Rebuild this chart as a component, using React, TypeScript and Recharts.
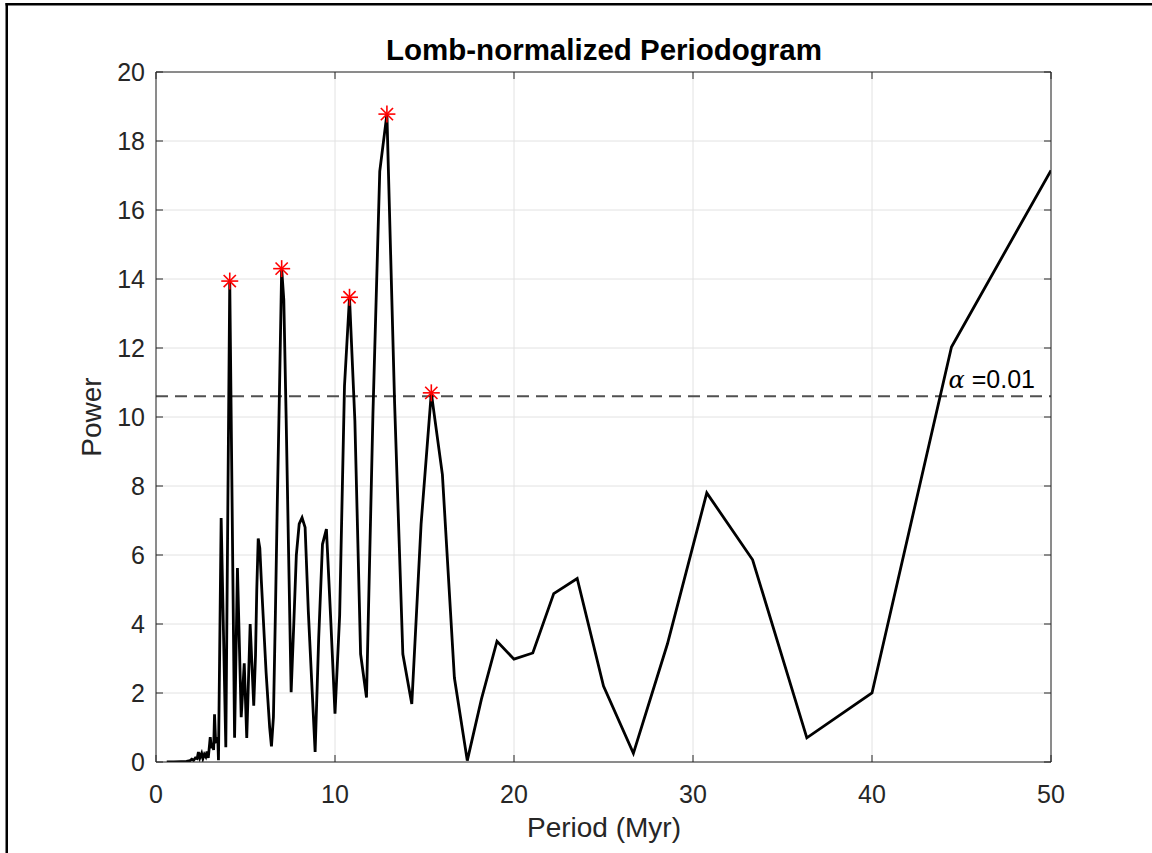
import React from "react";
import {
  ComposedChart,
  Line,
  XAxis,
  YAxis,
  CartesianGrid,
  ReferenceLine,
} from "recharts";

// Period (Myr) and Lomb-normalized power
const periods: number[] = [
  0.6, 1.0, 1.4, 1.7, 1.9, 2.0, 2.1, 2.2, 2.3, 2.37, 2.45, 2.55, 2.62, 2.7, 2.78, 2.85,
  2.92, 3.0, 3.03, 3.1, 3.15, 3.22, 3.27, 3.33, 3.4, 3.45, 3.49, 3.64, 3.9, 4.12,
  4.39, 4.55, 4.76, 4.93, 5.07, 5.26, 5.46, 5.56, 5.63, 5.71, 5.8, 5.88, 5.97, 6.06,
  6.15, 6.25, 6.35, 6.45, 6.56, 6.67, 6.78, 6.9, 7.02, 7.14, 7.27, 7.41, 7.55, 7.69,
  7.84, 8.0, 8.16, 8.33, 8.51, 8.7, 8.89, 9.09, 9.3, 9.52, 9.76, 10.0, 10.26, 10.53,
  10.81, 11.11, 11.43, 11.76, 12.12, 12.5, 12.9, 13.33, 13.79, 14.29, 14.81, 15.38,
  16.0, 16.67, 17.39, 18.18, 19.05, 20.0, 21.05, 22.22, 23.53, 25.0, 26.67, 28.57,
  30.77, 33.33, 36.36, 40.0, 44.44, 50.0,
];
const powers: number[] = [
  0.0, 0.0, 0.01, 0.02, 0.04, 0.08, 0.05, 0.12, 0.1, 0.29, 0.12, 0.25, 0.1, 0.22, 0.15, 0.3,
  0.12, 0.55, 0.72, 0.4, 0.55, 0.35, 1.38, 0.58, 0.6, 0.72, 0.05, 7.07, 0.43, 13.94,
  0.7, 5.62, 1.3, 2.86, 0.7, 4.0, 1.63, 3.1, 5.0, 6.48, 6.2, 5.3, 4.4, 3.5,
  2.6, 1.8, 1.0, 0.45, 1.3, 4.3, 7.6, 10.8, 14.3, 13.4, 10.0, 6.0, 2.02, 3.9,
  6.0, 6.9, 7.08, 6.8, 4.36, 2.32, 0.29, 3.6, 6.31, 6.75, 4.15, 1.4, 4.25, 10.9,
  13.47, 9.9, 3.13, 1.87, 10.1, 17.12, 18.78, 10.4, 3.13, 1.68, 6.9, 10.7,
  8.33, 2.44, 0.04, 1.82, 3.5, 2.98, 3.16, 4.88, 5.32, 2.2, 0.25, 3.42,
  7.8, 5.86, 0.7, 2.0, 12.03, 17.15,
];

// Detected peaks (red asterisks)
const peakPeriods: number[] = [4.12, 7.02, 10.81, 12.9, 15.38];
const peakPowers: number[] = [13.94, 14.3, 13.47, 18.78, 10.7];

// Significance threshold
const alphaLevel = 10.6;
const alphaText = "=0.01";

const xTicks: number[] = [0, 10, 20, 30, 40, 50];
const yTicks: number[] = [0, 2, 4, 6, 8, 10, 12, 14, 16, 18, 20];

const title = "Lomb-normalized Periodogram";
const xLabel = "Period (Myr)";
const yLabel = "Power";

const lineData = periods.map((p, i) => ({ p, v: powers[i] }));
const peakData = peakPeriods.map((p, i) => ({ p, v: peakPowers[i] }));

const FONT = "'Liberation Sans', Arial, Helvetica, sans-serif";
const AX = "#262626";
const TICK_LEN = 7;

const BottomTick = (props: any) => {
  const { x, y, payload } = props;
  return (
    <g>
      <line x1={x} x2={x} y1={y} y2={y - TICK_LEN} stroke={AX} strokeWidth={1} />
      <text x={x} y={y + 41} textAnchor="middle" fontFamily={FONT} fontSize={25} fill={AX}>
        {payload.value}
      </text>
    </g>
  );
};

const TopTick = (props: any) => {
  const { x, y } = props;
  return <line x1={x} x2={x} y1={y} y2={y + TICK_LEN} stroke={AX} strokeWidth={1} />;
};

const LeftTick = (props: any) => {
  const { x, y, payload } = props;
  return (
    <g>
      <line x1={x} x2={x + TICK_LEN} y1={y} y2={y} stroke={AX} strokeWidth={1} />
      <text x={x - 11} y={y + 9} textAnchor="end" fontFamily={FONT} fontSize={25} fill={AX}>
        {payload.value}
      </text>
    </g>
  );
};

const RightTick = (props: any) => {
  const { x, y } = props;
  return <line x1={x} x2={x - TICK_LEN} y1={y} y2={y} stroke={AX} strokeWidth={1} />;
};

const Star = (props: any) => {
  const { cx, cy } = props;
  if (cx == null || cy == null) return null;
  const r = 8.5;
  const d = r * 0.72;
  return (
    <g stroke="#ff0000" strokeWidth={1.6}>
      <line x1={cx - r} x2={cx + r} y1={cy} y2={cy} />
      <line x1={cx} x2={cx} y1={cy - r} y2={cy + r} />
      <line x1={cx - d} x2={cx + d} y1={cy - d} y2={cy + d} />
      <line x1={cx - d} x2={cx + d} y1={cy + d} y2={cy - d} />
    </g>
  );
};

const AlphaLabel = (props: any) => {
  const vb = props.viewBox || {};
  const x = (vb.x || 0) + (vb.width || 0) - 16;
  const y = (vb.y || 0) - 8;
  return (
    <text x={x} y={y} textAnchor="end" fontFamily={FONT} fontSize={25} fill="#000">
      <tspan fontFamily="'DejaVu Serif', 'Liberation Serif', serif" fontStyle="italic" fontSize={24}>
        α
      </tspan>
      <tspan> {alphaText}</tspan>
    </text>
  );
};

export default function App() {
  return (
    <div style={{ position: "absolute", left: 0, top: 0, width: 1152, height: 853, background: "#fff" }}>
      <div style={{ position: "absolute", left: 0, top: 0 }}>
        <ComposedChart
          width={1152}
          height={853}
          margin={{ top: 62, right: 91, bottom: 51, left: 96 }}
        >
          <CartesianGrid xAxisId="b" yAxisId="l" stroke="#e2e2e2" strokeWidth={1} />
          <XAxis
            xAxisId="b"
            type="number"
            dataKey="p"
            domain={[0, 50]}
            ticks={xTicks}
            orientation="bottom"
            height={40}
            tickSize={0}
            tickMargin={0}
            tickLine={false}
            tick={<BottomTick />}
            axisLine={{ stroke: AX, strokeWidth: 1 }}
            allowDataOverflow
          />
          <XAxis
            xAxisId="t"
            type="number"
            dataKey="p"
            domain={[0, 50]}
            ticks={xTicks}
            orientation="top"
            height={10}
            tickSize={0}
            tickMargin={0}
            tickLine={false}
            tick={<TopTick />}
            axisLine={{ stroke: AX, strokeWidth: 1 }}
            allowDataOverflow
          />
          <YAxis
            yAxisId="l"
            type="number"
            domain={[0, 20]}
            ticks={yTicks}
            orientation="left"
            width={60}
            tickSize={0}
            tickMargin={0}
            tickLine={false}
            tick={<LeftTick />}
            axisLine={{ stroke: AX, strokeWidth: 1 }}
            allowDataOverflow
          />
          <YAxis
            yAxisId="r"
            type="number"
            domain={[0, 20]}
            ticks={yTicks}
            orientation="right"
            width={10}
            tickSize={0}
            tickMargin={0}
            tickLine={false}
            tick={<RightTick />}
            axisLine={{ stroke: AX, strokeWidth: 1 }}
            allowDataOverflow
          />
          <ReferenceLine
            xAxisId="b"
            yAxisId="l"
            y={alphaLevel}
            stroke="#505050"
            strokeWidth={2}
            strokeDasharray="12 7"
            label={<AlphaLabel />}
          />
          <Line
            xAxisId="b"
            yAxisId="l"
            data={lineData}
            dataKey="v"
            type="linear"
            stroke="#000"
            strokeWidth={2.8}
            dot={false}
            activeDot={false}
            isAnimationActive={false}
          />
          <Line
            xAxisId="b"
            yAxisId="l"
            data={peakData}
            dataKey="v"
            type="linear"
            stroke="none"
            dot={<Star />}
            activeDot={false}
            isAnimationActive={false}
          />
        </ComposedChart>
      </div>
      <svg
        width={1152}
        height={853}
        style={{ position: "absolute", left: 0, top: 0, pointerEvents: "none" }}
      >
        <text x={604} y={60} textAnchor="middle" fontFamily={FONT} fontWeight="bold" fontSize={29.5} fill="#000">
          {title}
        </text>
        <text x={604} y={837} textAnchor="middle" fontFamily={FONT} fontSize={28} fill={AX}>
          {xLabel}
        </text>
        <text
          x={101}
          y={417}
          textAnchor="middle"
          fontFamily={FONT}
          fontSize={28}
          fill={AX}
          transform="rotate(-90 101 417)"
        >
          {yLabel}
        </text>
        <rect x={5.5} y={3} width={1147} height={2.5} fill="#000" />
        <rect x={5.5} y={3} width={2.5} height={850} fill="#000" />
      </svg>
    </div>
  );
}
